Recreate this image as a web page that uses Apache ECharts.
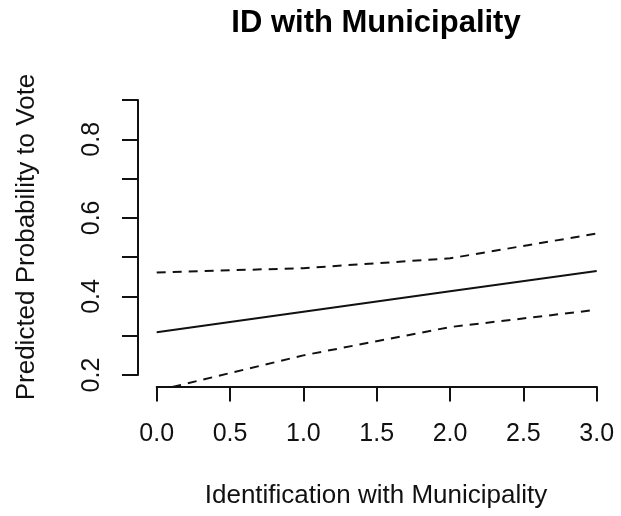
<!DOCTYPE html>
<html>
<head>
<meta charset="utf-8">
<script src="https://cdn.jsdelivr.net/npm/echarts@6/dist/echarts.min.js"></script>
<style>
html,body{margin:0;padding:0;background:#fff;}
#chart{width:621px;height:516px;}
</style>
</head>
<body>
<div id="chart"></div>
<script>
// ---- data ----
const xValues = [0, 1, 2, 3];
const predicted = [0.309, 0.361, 0.413, 0.465];
const upperCI = [0.461, 0.472, 0.497, 0.560];
const lowerCI = [0.160, 0.250, 0.322, 0.366];
const xTickValues = [0, 0.5, 1, 1.5, 2, 2.5, 3];
const yTickValues = [0.2, 0.3, 0.4, 0.5, 0.6, 0.7, 0.8, 0.9];
const yLabelValues = [0.2, 0.4, 0.6, 0.8];
const titleText = 'ID with Municipality';
const xTitle = 'Identification with Municipality';
const yTitle = 'Predicted Probability to Vote';

const FONT = '"Liberation Sans", Arial, Helvetica, sans-serif';
const pair = arr => xValues.map((x, i) => [x, arr[i]]);

const chart = echarts.init(document.getElementById('chart'), null, {renderer: 'canvas'});
const axisStyle = {color: '#111', width: 2};

chart.setOption({
  backgroundColor: '#fff',
  animation: false,
  grid: [
    {left: 139.1, right: 6.7, top: 89, bottom: 130},   // data region (R plot region)
    {left: 156.7, right: 24.3, top: 89, bottom: 129.5}, // x axis from 0 to 3
    {left: 138, right: 24, top: 100, bottom: 141}      // y axis from 0.2 to 0.9
  ],
  xAxis: [
    {gridIndex: 0, type: 'value', min: -0.12, max: 3.12, show: false},
    {gridIndex: 1, type: 'value', min: 0, max: 3, interval: 0.5,
      axisLine: {show: true, lineStyle: axisStyle},
      axisTick: {show: true, length: 15, lineStyle: axisStyle, customValues: xTickValues},
      axisLabel: {show: true, margin: 35, fontSize: 25, color: '#111', fontFamily: FONT,
        customValues: xTickValues, formatter: v => Number(v).toFixed(1)},
      splitLine: {show: false}},
    {gridIndex: 2, type: 'value', min: 0, max: 1, show: false}
  ],
  yAxis: [
    {gridIndex: 0, type: 'value', min: 0.172, max: 0.928, show: false},
    {gridIndex: 1, type: 'value', min: 0, max: 1, show: false},
    {gridIndex: 2, type: 'value', min: 0.2, max: 0.9, interval: 0.1,
      axisLine: {show: true, lineStyle: axisStyle},
      axisTick: {show: true, length: 16, lineStyle: axisStyle, customValues: yTickValues},
      axisLabel: {show: true, rotate: 90, margin: 33, fontSize: 25, color: '#111', fontFamily: FONT,
        customValues: yLabelValues, formatter: v => Number(v).toFixed(1)},
      splitLine: {show: false}}
  ],
  series: [
    {type: 'line', xAxisIndex: 0, yAxisIndex: 0, data: pair(predicted), symbol: 'none',
      lineStyle: {color: '#111', width: 2}, clip: true},
    {type: 'line', xAxisIndex: 0, yAxisIndex: 0, data: pair(upperCI), symbol: 'none',
      lineStyle: {color: '#111', width: 2, type: [9, 7]}, clip: true},
    {type: 'line', xAxisIndex: 0, yAxisIndex: 0, data: pair(lowerCI), symbol: 'none',
      lineStyle: {color: '#111', width: 2, type: [9, 7]}, clip: true}
  ],
  graphic: [
    {type: 'text', x: 376, y: 23, style: {text: titleText, font: 'bold 31px ' + FONT,
      fill: '#000', align: 'center', verticalAlign: 'middle'}},
    {type: 'text', x: 376, y: 496, style: {text: xTitle, font: '26px ' + FONT,
      fill: '#111', align: 'center', verticalAlign: 'middle'}},
    {type: 'text', x: 27, y: 237, rotation: Math.PI / 2, style: {text: yTitle, font: '26px ' + FONT,
      fill: '#111', align: 'center', verticalAlign: 'middle'}}
  ]
});
</script>
</body>
</html>
